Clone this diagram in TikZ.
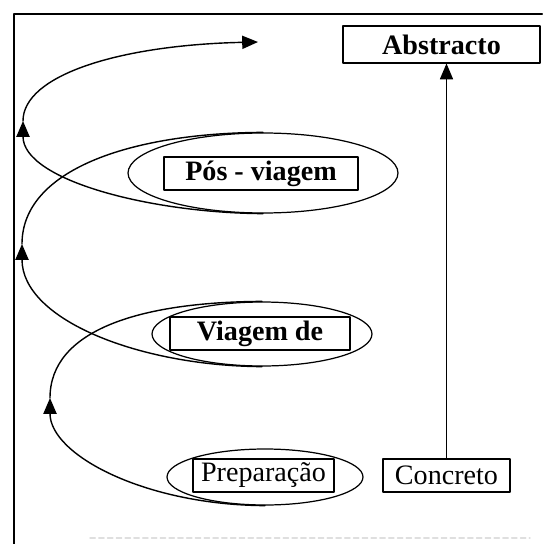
\documentclass[tikz,border=0pt]{standalone}
\usepackage{fontspec}
\setmainfont{Liberation Serif}
\usetikzlibrary{shapes.geometric,arrows.meta}
\begin{document}
\begin{tikzpicture}[x=0.02cm,y=-0.02cm,line join=round,line cap=round,>={Triangle[length=9pt,width=7.5pt]}]
	\tikzset{box/.style={draw,line width=.6pt,inner sep=0pt,font=\fontsize{16}{19}\selectfont},
		oval/.style={draw,ellipse,line width=.7pt,inner sep=0pt},
		spiral/.style={line width=.8pt}}
	\useasboundingbox (0,0) rectangle (542,544);
	\draw[line width=1.2pt] (14,544)--(14,14)--(542,14);
	\draw[gray!25,densely dashed,line width=.8pt] (90,538)--(530,538);
	\node[oval,minimum width=5.4cm,minimum height=1.6cm] (posE) at (263,173) {};
	\node[oval,minimum width=4.4cm,minimum height=1.28cm] (viaE) at (262,334) {};
	\node[oval,minimum width=3.92cm,minimum height=1.12cm] (preE) at (265,477) {};
	\node[box,minimum width=3.88cm,minimum height=.66cm] (pos) at (261,173.5) {\textbf{Pós - viagem}};
	\node[box,minimum width=3.6cm,minimum height=.66cm] (via) at (260,333.5) {\textbf{Viagem de}};
	\node[box,minimum width=2.82cm,minimum height=.66cm] (pre) at (263.5,475.5) {Preparação};
	\node[box,minimum width=2.54cm,minimum height=.66cm] (conc) at (446.5,475.5) {Concreto};
	\node[box,minimum width=3.94cm,minimum height=.74cm] (abs) at (441.5,44.5) {\textbf{Abstracto}};
	\draw[->,line width=.6pt] (conc.north)--(conc.north |- abs.south);
	\coordinate (L1) at (50,398);
	\coordinate (L2) at (22,244);
	\coordinate (L3) at (23,121);
	\coordinate (top) at (258,42);
	\draw[spiral,->] (preE.south) .. controls (145,505) and (50,455) .. (L1);
	\draw[spiral] (L1) .. controls (50,330) and (140,302) .. (viaE.north);
	\draw[spiral,->] (viaE.south) .. controls (140,366) and (22,320) .. (L2);
	\draw[spiral] (L2) .. controls (22,170) and (130,133) .. (posE.north);
	\draw[spiral,->] (posE.south) .. controls (150,213) and (23,180) .. (L3);
	\draw[spiral,->] (L3) .. controls (23,75) and (120,45) .. (top);
\end{tikzpicture}
\end{document}
